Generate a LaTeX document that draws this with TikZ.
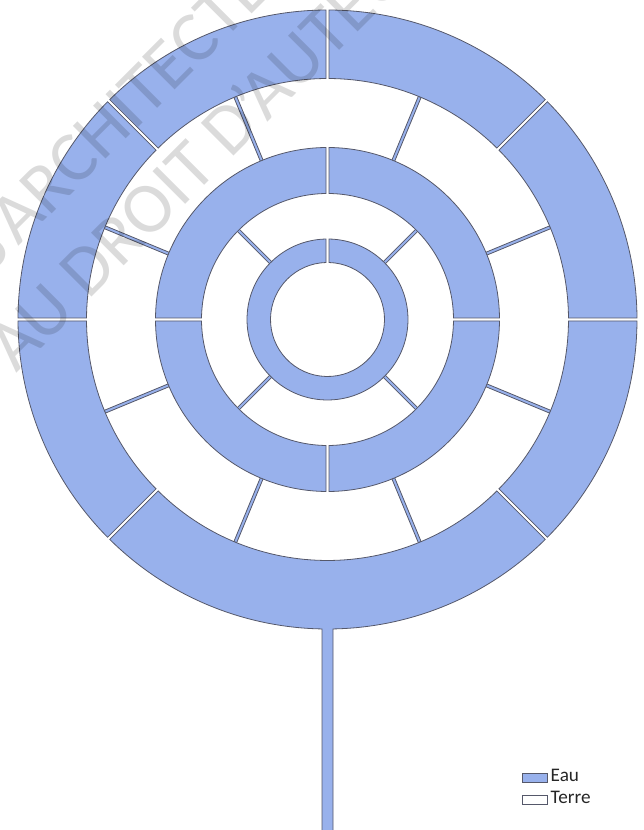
\documentclass[tikz,border=0pt]{standalone}
\usepackage{fontspec}
\setmainfont{Carlito}
\definecolor{eau}{HTML}{98B1EC}
\definecolor{trait}{HTML}{55586A}
\tikzset{
  eauzone/.style={fill=eau,draw=trait,line width=0.8pt,line join=miter},
  legbox/.style={draw=trait,line width=1pt,minimum width=25pt,minimum height=9pt,inner sep=0pt},
  legtxt/.style={font=\fontsize{19.2}{21}\selectfont,text=black!85,inner sep=0pt,anchor=base west},
  wm/.style={font=\fontsize{72}{74}\selectfont,text=black,text opacity=0.14,rotate=45,inner sep=0pt,anchor=base west}
}
% \annsec{r inner}{r outer}{angle start}{angle end}{half gap}
\newcommand{\annsec}[5]{%
  \pgfmathsetmacro{\oa}{#3+asin(#5/#2)}%
  \pgfmathsetmacro{\ob}{#4-asin(#5/#2)}%
  \pgfmathsetmacro{\ia}{#3+asin(#5/#1)}%
  \pgfmathsetmacro{\ib}{#4-asin(#5/#1)}%
  \draw[eauzone] (\oa:#2pt) arc[start angle=\oa,end angle=\ob,radius=#2pt]
    -- (\ib:#1pt) arc[start angle=\ib,end angle=\ia,radius=#1pt] -- cycle;}
% \spoke{r inner}{r outer}{angle}{width}
\newcommand{\spoke}[4]{%
  \draw[eauzone,rotate=#3] (#1pt,-#4pt) rectangle (#2pt,#4pt);}
\begin{document}
\begin{tikzpicture}[x=1pt,y=1pt]
\useasboundingbox (0,0) rectangle (643,830);
\begin{scope}[shift={(327.5,510.5)}]
  % spokes, outer land ring
  \foreach \a in {22.5,67.5,112.5,157.5,-22.5,-67.5,-112.5,-157.5} {\spoke{171.5}{241}{\a}{1.5}}
  % spokes, inner land ring
  \foreach \a in {45,135,-45,-135} {\spoke{80}{126.5}{\a}{1.5}}
  % outer ring
  \annsec{241}{309.5}{0}{45}{1.5}
  \annsec{241}{309.5}{45}{90}{1.5}
  \annsec{241}{309.5}{90}{135}{1.5}
  \annsec{241}{309.5}{135}{180}{1.5}
  \annsec{241}{309.5}{180}{225}{1.5}
  \annsec{241}{309.5}{315}{360}{1.5}
  % bottom segment with outlet
  \pgfmathsetmacro{\sa}{270-asin(5.5/309.5)}
  \pgfmathsetmacro{\sb}{270+asin(5.5/309.5)}
  \pgfmathsetmacro{\ga}{225+asin(1.5/309.5)}
  \pgfmathsetmacro{\gb}{315-asin(1.5/309.5)}
  \pgfmathsetmacro{\ha}{225+asin(1.5/241)}
  \pgfmathsetmacro{\hb}{315-asin(1.5/241)}
  \draw[eauzone] (\ga:309.5pt) arc[start angle=\ga,end angle=\sa,radius=309.5pt]
    -- (-5.5,-520) -- (5.5,-520) -- (\sb:309.5pt)
    arc[start angle=\sb,end angle=\gb,radius=309.5pt]
    -- (\hb:241pt) arc[start angle=\hb,end angle=\ha,radius=241pt] -- cycle;
  % middle ring
  \annsec{126}{172}{0}{90}{1.5}
  \annsec{126}{172}{90}{180}{1.5}
  \annsec{126}{172}{180}{270}{1.5}
  \annsec{126}{172}{270}{360}{1.5}
  % inner ring
  \annsec{57}{80.5}{90}{450}{1.5}
\end{scope}
% watermark
\begin{scope}
  \clip (0,0) rectangle (643,830);
  \node[wm] (mark1) at (-10.6,554) {S'ARCHITECTE};
  \node[wm] (mark2) at (16,456) {AU DROIT D'AUTEUR};
\end{scope}
% legend
\node[legbox,fill=eau] (leg1) at (534.5,52.2) {};
\node[legbox,fill=white] (leg2) at (534.5,30.4) {};
\node[legtxt] (txt1) at (550.5,48.3) {Eau};
\node[legtxt] (txt2) at (550.5,26.7) {Terre};
\end{tikzpicture}
\end{document}
